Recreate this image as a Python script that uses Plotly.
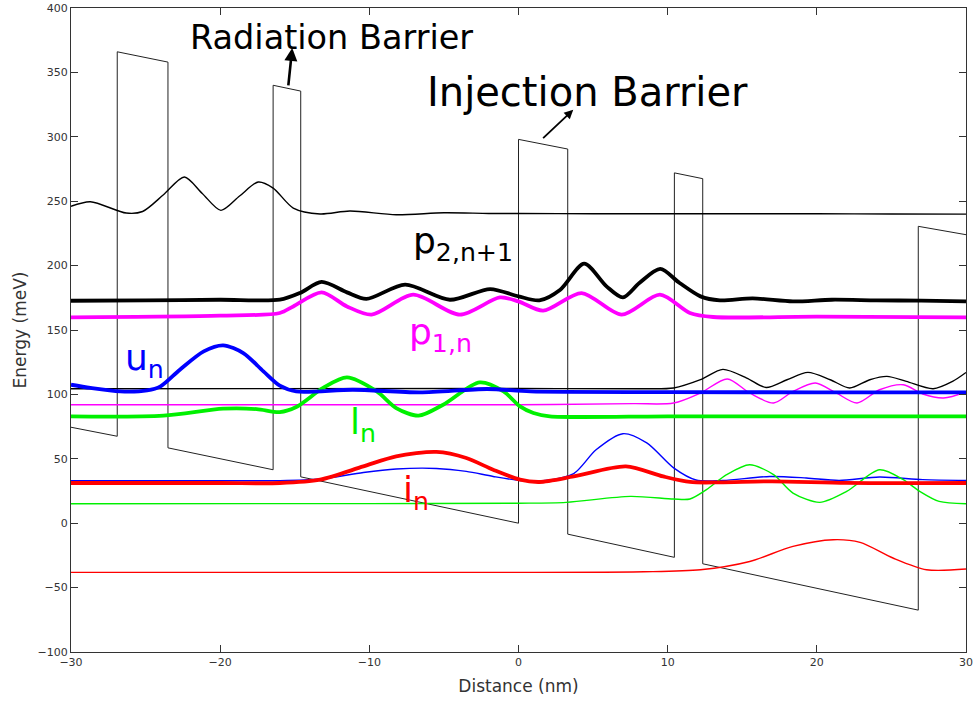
import plotly.graph_objects as go

# Conduction band edge (piecewise linear, barriers + wells under applied field)
band_x = [-30, -26.9, -26.9, -23.5, -23.5, -16.45, -16.45, -14.6, -14.6, 0, 0, 3.3, 3.3,
          10.45, 10.45, 12.35, 12.35, 26.8, 26.8, 30]
band_y = [74.5, 67.5, 366, 358, 58.5, 41.5, 340, 335.5, 36, 0, 298, 290.5, -8.5,
          -26.5, 272, 267.5, -31.5, -67.5, 230.5, 224]

# Upper continuum state
top_x = [-30, -28.7, -26.3, -25.2, -23.8, -22.4, -21.2, -19.95, -18.7, -17.45, -16.45,
         -15.1, -13.3, -11.3, -8.2, -5, -2, 0, 5, 10, 15, 20, 25, 30]
top_y = [246, 249.6, 240.8, 242, 255, 268.8, 256, 242.9, 254, 264.9, 260.2,
         244.7, 240.1, 242.4, 239.5, 241, 240.5, 240.5, 240.3, 240.3, 240.2, 240.2, 240.1, 240]

# p_{2,n+1}
p2_x = [-30, -25, -20, -16, -14.65, -13.2, -11.5, -10.2, -7.6, -4.6, -1.9, 0, 1.4, 2.8,
        4.4, 5.9, 7.0, 8.1, 9.5, 10.8, 12.2, 13.5, 15.7, 18.4, 21, 24, 27, 30]
p2_y = [172.7, 173, 173.5, 173.5, 178.7, 187.3, 179.2, 174.1, 185.2, 173.5, 181.8, 176.1, 173, 181.3,
        201.5, 183.9, 175.3, 186.5, 197.4, 186.5, 176.1, 173, 174.5, 172.2, 173.5, 173, 172.8, 172.2]

# p_{1,n}
p1_x = [-30, -20, -16, -15.1, -13.2, -11.5, -9.85, -7.06, -3.93, -1.25, 0, 1.65, 4.23,
        6.91, 9.48, 11.49, 13.05, 20, 30]
p1_y = [159.8, 161.1, 163.2, 168.3, 179.2, 168.3, 161.9, 177.4, 161.9, 175.3, 172.2, 165, 178.7,
        161.9, 177.4, 163.2, 160.1, 160.4, 159.8]

# u_n
un_x = [-30, -28.7, -26.7, -24.9, -24.0, -22.7, -21.1, -19.8, -18.45, -17.1, -16.0, -14.9,
        -11.1, -6.6, -2.1, 0.8, 10, 20, 30]
un_y = [107.5, 105, 102.3, 103.1, 106.2, 119.2, 133.4, 138.1, 132.1, 117.9, 106.8, 102.3,
        103.6, 101.6, 104.2, 102.3, 101.8, 101.6, 101.6]

# Thin black state near 105 meV
b105_x = [-30, 0, 8.1, 10.4, 12.2, 13.7, 15.3, 16.6, 18.0, 19.4, 20.9, 22.2, 23.55, 24.7,
          26.0, 27.8, 29.1, 30]
b105_y = [104.4, 104.6, 104.4, 105, 111.4, 119.4, 112.7, 105.4, 111.4, 117.1, 111.4, 105, 111.4, 114,
          110.1, 104.4, 110.1, 117]

# Thin magenta state near 92 meV
m92_x = [-30, 0, 7.7, 10.4, 12.2, 14.0, 15.5, 17.1, 18.4, 19.9, 21.3, 22.7, 24.2, 25.8,
         27.1, 28.5, 30]
m92_y = [92, 92, 92.8, 93.3, 101.1, 112, 101.1, 93.3, 102.3, 108.9, 101.1, 93.3, 103.6, 107.5,
         100.3, 97.2, 101.9]

# l_n
ln_x = [-30, -23.8, -19.8, -17.55, -16.0, -14.9, -13.1, -11.5, -9.5, -8.2, -6.7, -5.05,
        -2.6, -1.0, 0.1, 1.0, 2.1, 10, 20, 30]
ln_y = [82.9, 83.5, 88.9, 88.6, 86.3, 90.2, 105, 113.2, 102.3, 89.4, 83.5, 92,
        109.3, 102.3, 90.7, 85.6, 83, 83, 83, 83]

# i_n
in_x = [-30, -20, -16.0, -13.3, -10.4, -8.2, -5.5, -3.5, -1.7, 0.1, 1.4, 3.7, 7.2, 9.7,
        11.5, 13.5, 17, 22, 30]
in_y = [31.2, 31.2, 31.2, 33.8, 44.1, 51.9, 55.3, 50.6, 41.5, 33.8, 32, 36.3, 44.1, 36.3,
        32, 31.7, 32.5, 31.3, 31.2]

# Thin blue state near 33 meV
ub_x = [-30, -20, -16.0, -13.3, -10.4, -8.2, -5.5, -3.5, -1.7, 0.1, 1.65, 3.7, 5.2, 7.0,
        8.6, 10.4, 11.9, 13.7, 16.85, 19.3, 21.5, 24.2, 27.1, 30]
ub_y = [33, 33, 33, 34.3, 39.4, 42.1, 42.5, 40.2, 36.3, 33.2, 33, 38.5, 57, 69.5,
        62.3, 42.9, 33.5, 33.2, 36.3, 35.1, 33.2, 35.9, 33.8, 33.2]

# Thin green state near 15 meV
lg_x = [-30, -10, 0, 3.2, 7.5, 10.4, 11.5, 12.6, 13.95, 15.5, 17.1, 18.4, 20.2, 22.0,
        24.2, 25.8, 26.9, 28.2, 30]
lg_y = [15.1, 15.2, 15.5, 16.2, 20.8, 18.8, 18.8, 26, 37.7, 45.4, 37.7, 23.4, 16.2, 24.7,
        41.5, 33.8, 24.7, 16.9, 15.1]

# Thin red state near -38 meV
ir_x = [-30, -1.25, 8.4, 12.2, 15.5, 18.4, 21.1, 22.9, 25.1, 27.35, 30]
ir_y = [-38.2, -38.2, -37.7, -36.1, -29.7, -18, -12.8, -14.9, -27, -36.1, -35.6]

FONT = "DejaVu Sans"
GREEN = "#00f000"

fig = go.Figure()

fig.add_trace(go.Scatter(x=band_x, y=band_y, mode="lines",
                         line=dict(color="#222222", width=1)))

thin = [
    (top_x, top_y, "#000000"),
    (b105_x, b105_y, "#000000"),
    (m92_x, m92_y, "#ff00ff"),
    (ub_x, ub_y, "#0000ff"),
    (lg_x, lg_y, GREEN),
    (ir_x, ir_y, "#ff0000"),
]
for xs, ys, c in thin:
    fig.add_trace(go.Scatter(x=xs, y=ys, mode="lines",
                             line=dict(color=c, width=1.4, shape="spline", smoothing=0.8)))

thick = [
    (p2_x, p2_y, "#000000"),
    (p1_x, p1_y, "#ff00ff"),
    (ln_x, ln_y, GREEN),
    (un_x, un_y, "#0000ff"),
    (in_x, in_y, "#ff0000"),
]
for xs, ys, c in thick:
    fig.add_trace(go.Scatter(x=xs, y=ys, mode="lines",
                             line=dict(color=c, width=3.8, shape="spline", smoothing=0.8)))

# Barrier annotations
fig.add_annotation(x=-12.57, y=377, text="Radiation Barrier", showarrow=False,
                   font=dict(family=FONT, size=33.5, color="#000000"),
                   xanchor="center", yanchor="middle")
fig.add_annotation(x=-15.17, y=369, ax=-15.44, ay=338.7, axref="x", ayref="y",
                   text="", showarrow=True, arrowhead=2, arrowsize=1, arrowwidth=2.6,
                   arrowcolor="#000000")
fig.add_annotation(x=4.65, y=335, text="Injection Barrier", showarrow=False,
                   font=dict(family=FONT, size=40, color="#000000"),
                   xanchor="center", yanchor="middle")
fig.add_annotation(x=3.67, y=321, ax=1.55, ay=297.8, axref="x", ayref="y",
                   text="", showarrow=True, arrowhead=2, arrowsize=1, arrowwidth=1.8,
                   arrowcolor="#000000")

# State labels
labels = [
    ("p<sub>2,n+1</sub>", -7.2, 217.5, "#000000"),
    ("p<sub>1,n</sub>", -7.5, 146.5, "#ff00ff"),
    ("u<sub>n</sub>", -26.5, 126, "#0000ff"),
    ("l<sub>n</sub>", -11.4, 77, GREEN),
    ("i<sub>n</sub>", -7.85, 24, "#ff0000"),
]
for txt, lx, ly, c in labels:
    fig.add_annotation(x=lx, y=ly, text=txt, showarrow=False,
                       font=dict(family=FONT, size=36, color=c),
                       xanchor="left", yanchor="middle")

axis_common = dict(
    showline=True, linecolor="#333333", linewidth=1, mirror="allticks",
    ticks="inside", ticklen=7, tickcolor="#333333", showgrid=False, zeroline=False,
    automargin=False,
    tickfont=dict(family=FONT, size=11, color="#333333"),
)
fig.update_xaxes(range=[-30, 30], tickvals=[-30, -20, -10, 0, 10, 20, 30],
                 title=dict(text="Distance (nm)", font=dict(family=FONT, size=17, color="#333333"),
                            standoff=11),
                 **axis_common)
fig.update_yaxes(range=[-100, 400], tickvals=[-100, -50, 0, 50, 100, 150, 200, 250, 300, 350, 400],
                 title=dict(text="Energy (meV)", font=dict(family=FONT, size=17, color="#333333"),
                            standoff=6),
                 **axis_common)

fig.update_layout(
    width=974, height=702,
    margin=dict(l=71, r=8, t=8, b=50),
    paper_bgcolor="white", plot_bgcolor="white",
    showlegend=False,
    font=dict(family=FONT),
)

fig.write_html("out.html")
